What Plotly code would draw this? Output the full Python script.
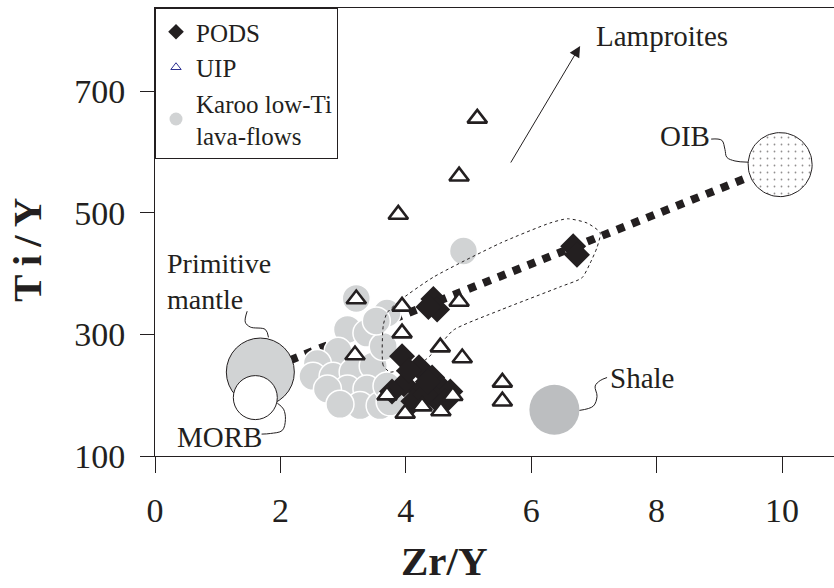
import numpy as np
import plotly.graph_objects as go

# ---------------- data ----------------
pods_x = [6.67, 6.73, 4.44, 4.50, 4.36, 3.94, 4.21, 4.42, 4.56, 4.71, 3.97, 3.78, 4.23, 4.12, 4.49, 4.31, 4.63, 4.05, 4.35]
pods_y = [445, 431, 358, 341, 345, 264, 246, 229, 213, 206, 218, 206, 206, 190, 193, 201, 190, 240, 222]

uip_x = [5.14, 4.85, 3.88, 3.21, 3.94, 3.94, 4.85, 3.19, 4.55, 4.90, 5.54, 5.54, 3.70, 3.99, 4.26, 4.56, 4.75]
uip_y = [655, 560, 497, 358, 346, 302, 354, 266, 279, 261, 221, 190, 200, 170, 182, 174, 199]

karoo_x = [3.21, 3.70, 3.07, 3.38, 2.92, 2.59, 2.52, 2.84, 3.16, 3.48, 3.64, 3.07, 3.38, 2.75,
           3.27, 3.59, 2.95, 3.70, 3.53, 4.92, 3.75]
karoo_y = [359, 335, 308, 302, 272, 252, 231, 231, 238, 248, 280, 210, 210, 210,
           183, 183, 185, 215, 322, 437, 189]

# reference compositions
pm_xy = (1.68, 238)
morb_xy = (1.60, 196)
oib_xy = (9.97, 579)
shale_xy = (6.37, 176)

# PODS field outline
field_x = [3.75, 3.64, 3.64, 3.70, 3.91, 4.44, 5.51, 6.30, 6.58, 6.89, 7.10, 7.05, 6.94, 6.81,
           6.46, 5.51, 4.76, 4.50, 4.31, 3.75]
field_y = [238, 249, 314, 335, 356, 394, 450, 483, 490, 483, 467, 443, 417, 393,
           378, 340, 307, 277, 258, 238]

# Lamproites vector (tail, head)
lamp_tail = (5.66, 580)
lamp_head = (6.78, 774)

# leader lines of labels
oib_lead_x = [8.87, 9.04, 9.09, 9.12, 9.25, 9.46]
oib_lead_y = [621, 619, 604, 591, 585, 583]
pm_lead_x = [1.47, 1.44, 1.52, 1.76, 1.81]
pm_lead_y = [338, 320, 312, 308, 295]
morb_lead_x = [1.95, 2.05, 2.08, 2.03, 1.84, 1.70]
morb_lead_y = [187, 177, 160, 142, 137, 136]
shale_lead_x = [6.77, 6.99, 7.05, 7.02, 7.10, 7.21]
shale_lead_y = [175, 182, 198, 215, 224, 229]

x_ticks = [0, 2, 4, 6, 8, 10]
y_ticks = [100, 300, 500, 700]

FONT = "Liberation Serif"
INK = "#231f20"
GREY = "#d1d3d4"

fig = go.Figure()

# trend PM -> OIB (thick dotted)
fig.add_trace(go.Scatter(x=[pm_xy[0], oib_xy[0]], y=[pm_xy[1], oib_xy[1]], mode="lines",
                         line=dict(color=INK, width=8, dash="dot"), showlegend=False, hoverinfo="skip"))

# Primitive mantle & MORB
fig.add_trace(go.Scatter(x=[pm_xy[0]], y=[pm_xy[1]], mode="markers",
                         marker=dict(size=68, color=GREY, line=dict(color=INK, width=1)),
                         showlegend=False))
fig.add_trace(go.Scatter(x=[morb_xy[0]], y=[morb_xy[1]], mode="markers",
                         marker=dict(size=44, color="white", line=dict(color=INK, width=1)),
                         showlegend=False))
# OIB dotted circle (polygon in data units derived from a pixel radius)
px_per_x = 62.7
px_per_y = 0.6083
r_px = 32
t = np.linspace(0, 2 * np.pi, 90)
fig.add_trace(go.Scatter(x=oib_xy[0] + r_px / px_per_x * np.cos(t),
                         y=oib_xy[1] + r_px / px_per_y * np.sin(t),
                         mode="lines", fill="toself", fillcolor="white",
                         fillpattern=dict(shape=".", size=7, solidity=0.05, fgcolor=INK, bgcolor="white"),
                         line=dict(color=INK, width=1), showlegend=False, hoverinfo="skip"))
# Shale
fig.add_trace(go.Scatter(x=[shale_xy[0]], y=[shale_xy[1]], mode="markers",
                         marker=dict(size=50, color="#bcbec0", line=dict(width=0)),
                         showlegend=False))

# Karoo
fig.add_trace(go.Scatter(x=karoo_x, y=karoo_y, mode="markers",
                         marker=dict(size=28, color=GREY, line=dict(color="white", width=1.5)),
                         showlegend=False))
# PODS field
fig.add_trace(go.Scatter(x=field_x, y=field_y, mode="lines",
                         line=dict(color=INK, width=1, dash="dot", shape="spline", smoothing=0.6),
                         showlegend=False, hoverinfo="skip"))
# PODS
fig.add_trace(go.Scatter(x=pods_x, y=pods_y, mode="markers",
                         marker=dict(symbol="diamond", size=20, color=INK, line=dict(width=0)),
                         showlegend=False))
# UIP
fig.add_trace(go.Scatter(x=uip_x, y=uip_y, mode="markers",
                         marker=dict(symbol="triangle-up", size=17, color="white",
                                     line=dict(color=INK, width=2.6)),
                         showlegend=False))

# leader lines
for lx, ly in [(oib_lead_x, oib_lead_y), (pm_lead_x, pm_lead_y),
               (morb_lead_x, morb_lead_y), (shale_lead_x, shale_lead_y)]:
    fig.add_trace(go.Scatter(x=lx, y=ly, mode="lines",
                             line=dict(color=INK, width=1, shape="spline"),
                             showlegend=False, hoverinfo="skip"))

# legend entries
fig.add_trace(go.Scatter(x=[None], y=[None], mode="markers", name="PODS",
                         marker=dict(symbol="diamond", size=12, color=INK)))
fig.add_trace(go.Scatter(x=[None], y=[None], mode="markers", name="UIP",
                         marker=dict(symbol="triangle-up-open", size=9, color="#2e3192",
                                     line=dict(width=1))))
fig.add_trace(go.Scatter(x=[None], y=[None], mode="markers", name="Karoo low-Ti<br>lava-flows",
                         marker=dict(symbol="circle", size=13, color=GREY)))

ann_font = dict(family=FONT, size=29, color=INK)
annotations = [
    dict(x=lamp_head[0], y=lamp_head[1], ax=lamp_tail[0], ay=lamp_tail[1], xref="x", yref="y",
         axref="x", ayref="y", text="", showarrow=True, arrowhead=2, arrowsize=2.2,
         arrowwidth=1, arrowcolor=INK),
    dict(x=8.08, y=790, xref="x", yref="y", text="Lamproites", showarrow=False, font=ann_font),
    dict(x=8.45, y=626, xref="x", yref="y", text="OIB", showarrow=False, font=ann_font),
    dict(x=0.16, y=387, xref="x", yref="y", text="Primitive<br>mantle", showarrow=False,
         xanchor="left", yanchor="middle", align="left",
         font=dict(family=FONT, size=28, color=INK)),
    dict(x=0.32, y=132, xref="x", yref="y", text="MORB", showarrow=False,
         xanchor="left", yanchor="middle", font=ann_font),
    dict(x=7.23, y=229, xref="x", yref="y", text="Shale", showarrow=False,
         xanchor="left", yanchor="middle", font=ann_font),
    dict(x=0.427, y=-0.234, xref="paper", yref="paper", text="<b>Zr/Y</b>", showarrow=False,
         xanchor="center", yanchor="middle", font=dict(family=FONT, size=41, color=INK)),
    dict(x=-0.1885, y=0.46, xref="paper", yref="paper", text="<b>T\u2009i\u2009/\u2009Y</b>",
         showarrow=False, textangle=-90, xanchor="center", yanchor="middle",
         font=dict(family=FONT, size=41, color=INK)),
]

fig.update_layout(
    width=834, height=588,
    margin=dict(l=155, r=0, t=8, b=132),
    plot_bgcolor="white", paper_bgcolor="white",
    font=dict(family=FONT, color=INK),
    annotations=annotations,
    legend=dict(x=0, y=1, xanchor="left", yanchor="top", bgcolor="white",
                bordercolor=INK, borderwidth=1, font=dict(family=FONT, size=25, color=INK),
                tracegroupgap=0, itemsizing="trace"),
    xaxis=dict(range=[0, 679 / px_per_x], tickvals=x_ticks, ticks="outside", ticklen=16,
               tickwidth=1, tickcolor=INK, showline=True, linecolor=INK, linewidth=1,
               mirror=True, showgrid=False, zeroline=False, ticklabelstandoff=8,
               tickfont=dict(family=FONT, size=34, color=INK)),
    yaxis=dict(range=[100, 100 + 448 / px_per_y], tickvals=y_ticks, ticks="outside", ticklen=14,
               tickwidth=1, tickcolor=INK, showline=True, linecolor=INK, linewidth=1,
               showgrid=False, zeroline=False, ticklabelstandoff=8,
               tickfont=dict(family=FONT, size=34, color=INK)),
)

fig.write_html("out.html")
